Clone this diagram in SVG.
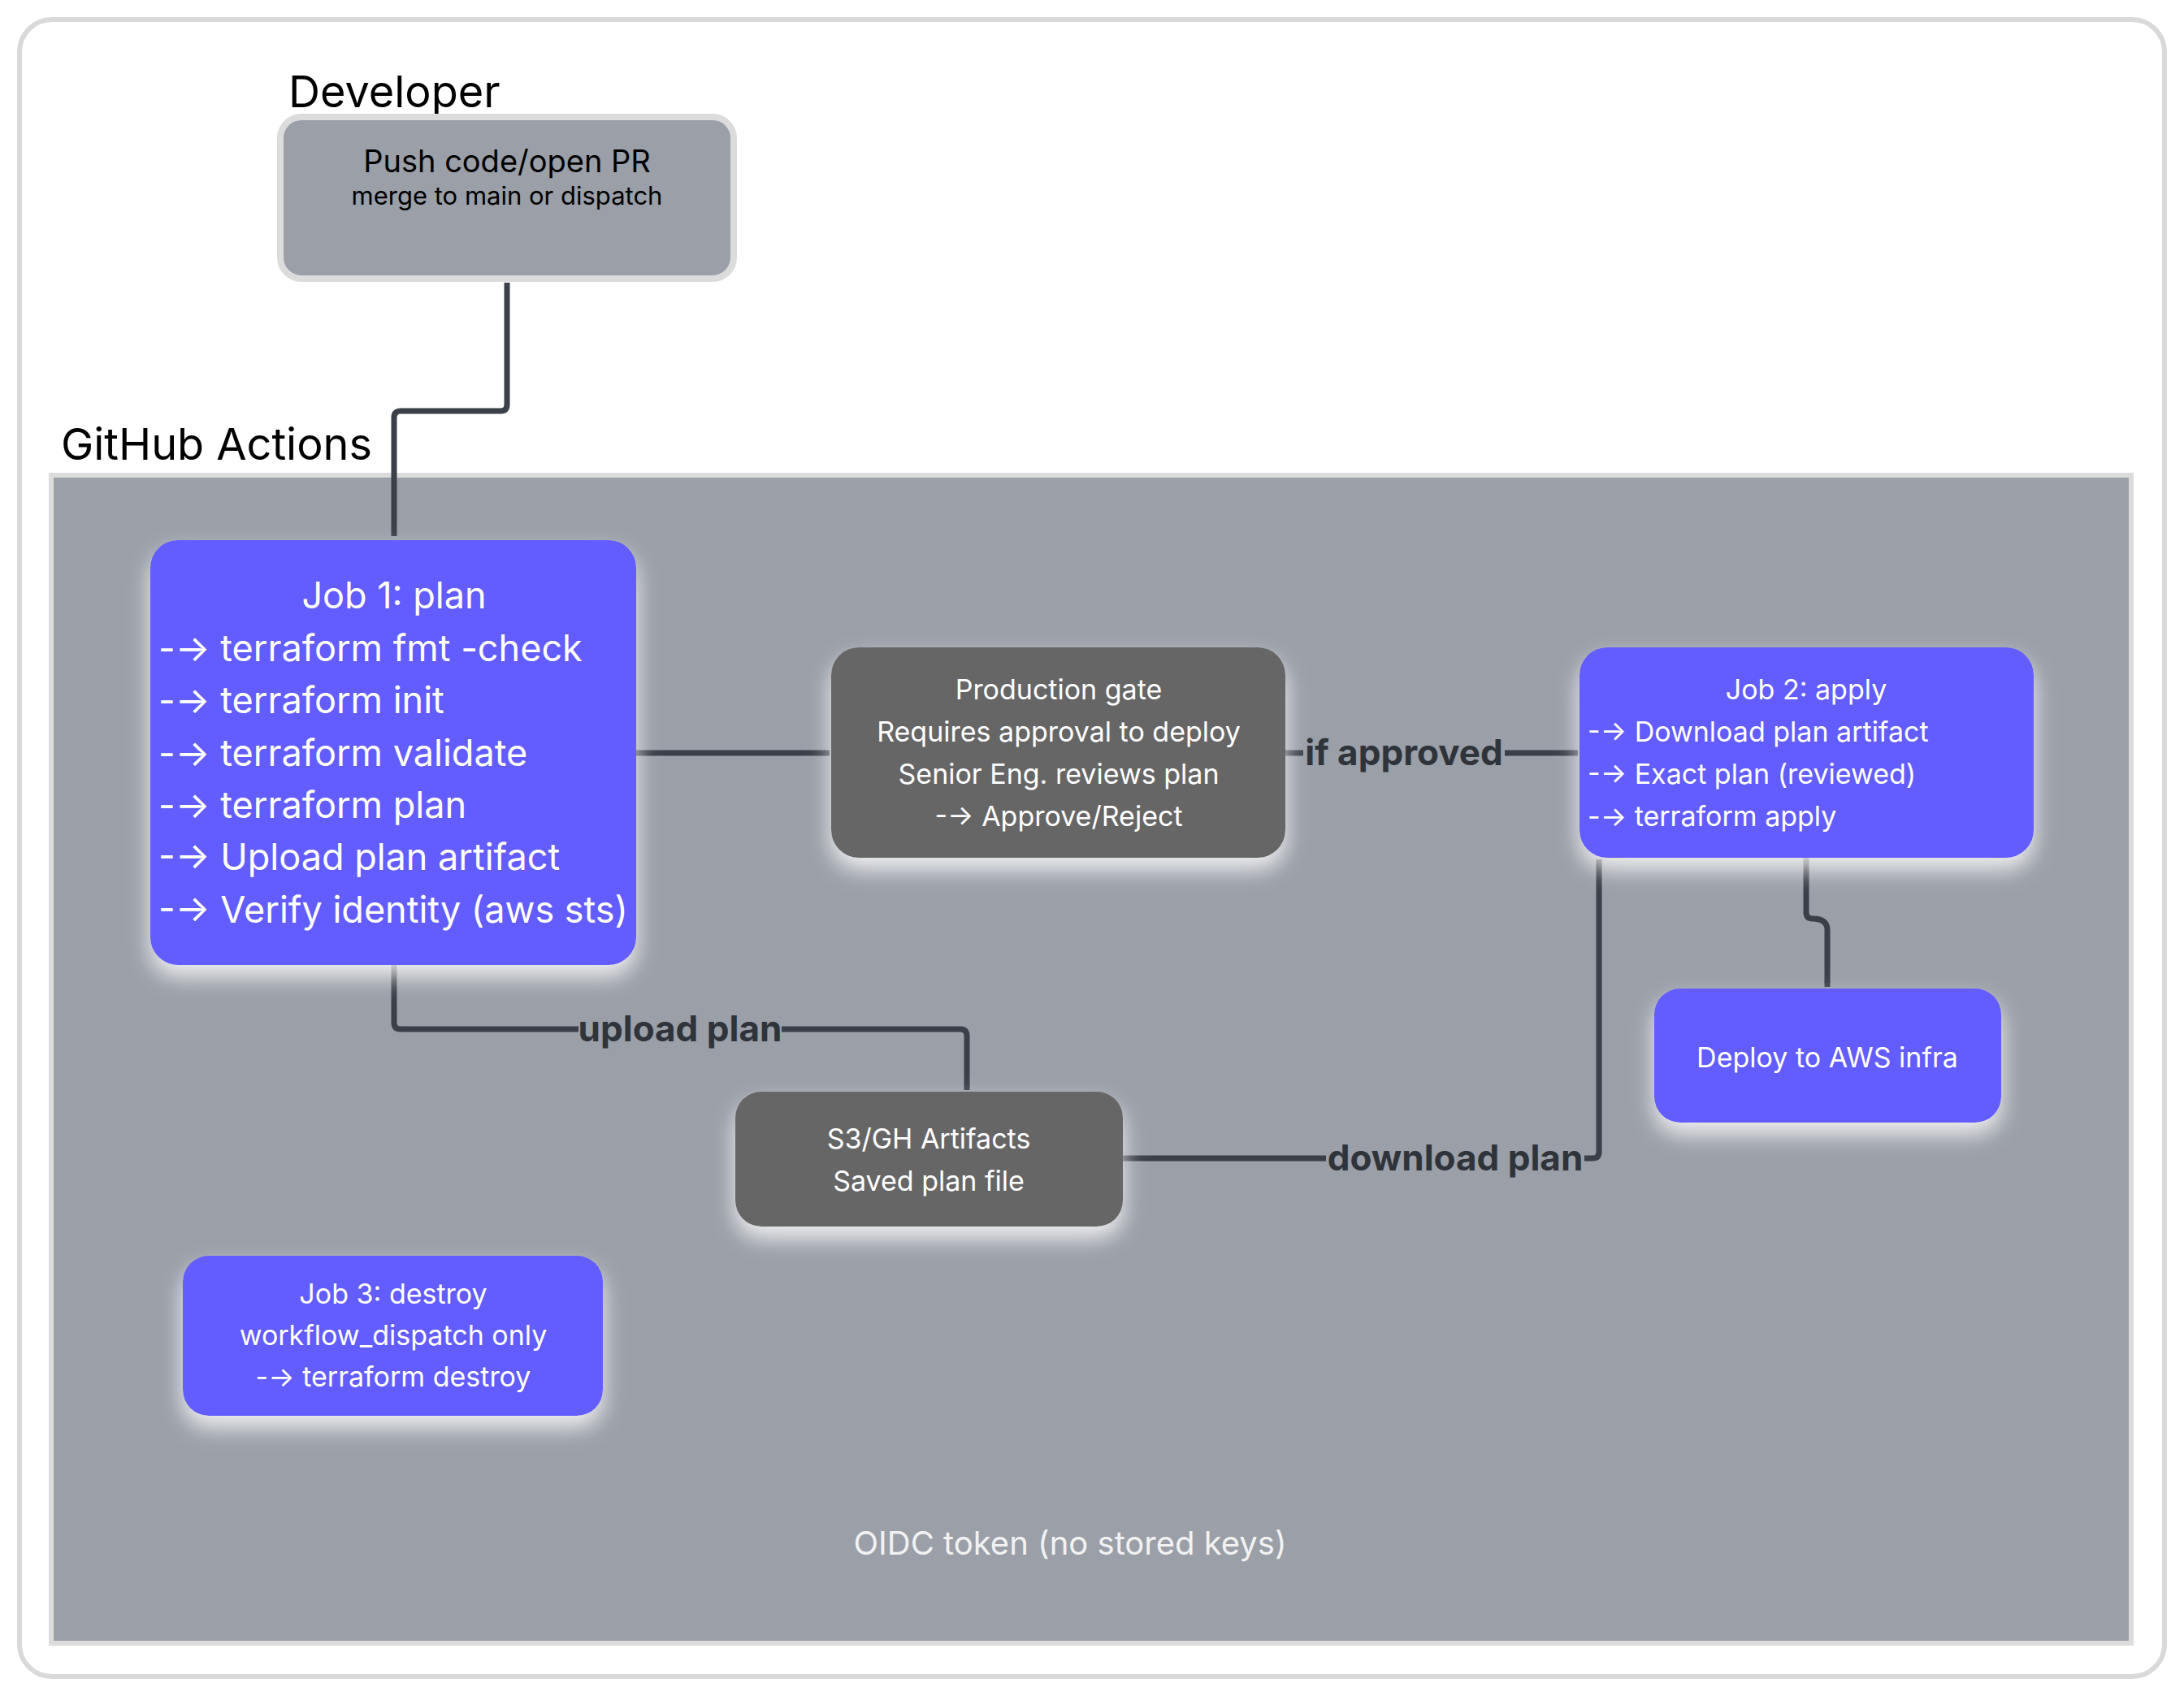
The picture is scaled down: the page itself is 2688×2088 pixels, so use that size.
<svg xmlns="http://www.w3.org/2000/svg" width="2688" height="2088" viewBox="0 0 2688 2088">
<defs>
<filter id="glow" x="-20%" y="-20%" width="140%" height="150%">
<feDropShadow dx="0" dy="14" stdDeviation="14" flood-color="#ffffff" flood-opacity="0.85"/>
</filter>
<marker id="ah" markerWidth="8" markerHeight="8" refX="7.5" refY="4" orient="auto" markerUnits="userSpaceOnUse" viewBox="0 0 8 8">
<path d="M0,0 L8,4 L0,8 Z" fill="#3a3f48"/>
</marker>
<style>
text{font-family:Inter,"Noto Sans","Liberation Sans",sans-serif}
.w{fill:#ffffff}
.c{text-anchor:middle}
.conn{fill:none;stroke:#3a3f48;stroke-width:7;stroke-linejoin:round}
.lbl{font-weight:bold;font-size:44px;fill:#2f333a;text-anchor:middle}
.blue{fill:#635bff;filter:url(#glow)}
.dark{fill:#666666;filter:url(#glow)}
</style>
</defs>
<rect x="0" y="0" width="2688" height="2088" fill="#ffffff"/>
<rect x="24" y="24" width="2640" height="2040" rx="40" fill="#ffffff" stroke="#d9d9d9" stroke-width="6"/>
<g id="developer">
<text x="355" y="132" font-size="54" fill="#000">Developer</text>
<rect x="345" y="144" width="558" height="199" rx="26" fill="#9a9fa8" stroke="#dcdcdc" stroke-width="8"/>
<text x="624" y="212" font-size="38" class="c" fill="#000">Push code/open PR</text>
<text x="624" y="252" font-size="31" class="c" fill="#000">merge to main or dispatch</text>
</g>
<g id="github-actions">
<text x="75" y="566" font-size="54" fill="#000">GitHub Actions</text>
<rect x="63" y="585" width="2560" height="1438" fill="#9a9fa8" stroke="#dcdcdc" stroke-width="6"/>
</g>
<g id="connectors">
<path class="conn" d="M624,348 V498 Q624,506 616,506 H493 Q485,506 485,514 V660" marker-end="url(#ah)" style="marker-end:url(#ah)"/>
<path class="conn" d="M783,927 H1021" marker-end="url(#ah)"/>
<path class="conn" d="M1582,927 H1942" marker-end="url(#ah)"/>
<path class="conn" d="M2223,1056 V1123 Q2223,1131 2231,1131 Q2249,1131 2249,1145 V1215" marker-end="url(#ah)"/>
<path class="conn" d="M485,1188 V1259 Q485,1267 493,1267 H1182 Q1190,1267 1190,1275 V1342" marker-end="url(#ah)"/>
<path class="conn" d="M1382,1426 H1960 Q1968,1426 1968,1418 V1058" marker-end="url(#ah)"/>
<rect x="1604" y="895" width="248" height="60" fill="#9a9fa8"/>
<text x="1728" y="942" class="lbl">if approved</text>
<rect x="712" y="1237" width="250" height="60" fill="#9a9fa8"/>
<text x="837" y="1282" class="lbl">upload plan</text>
<rect x="1632" y="1396" width="318" height="60" fill="#9a9fa8"/>
<text x="1791" y="1441" class="lbl">download plan</text>
</g>
<g id="job1">
<rect class="blue" x="185" y="665" width="598" height="523" rx="34"/>
<g font-size="45" class="w">
<text x="485" y="749" class="c">Job 1: plan</text>
<text x="195" y="814">-→ terraform fmt -check</text>
<text x="195" y="878">-→ terraform init</text>
<text x="195" y="943">-→ terraform validate</text>
<text x="195" y="1007">-→ terraform plan</text>
<text x="195" y="1071">-→ Upload plan artifact</text>
<text x="195" y="1136">-→ Verify identity (aws sts)</text>
</g>
</g>
<g id="gate">
<rect class="dark" x="1023" y="797" width="559" height="259" rx="34"/>
<g font-size="34" class="w c">
<text x="1303" y="861">Production gate</text>
<text x="1303" y="913">Requires approval to deploy</text>
<text x="1303" y="965">Senior Eng. reviews plan</text>
<text x="1303" y="1017">-→ Approve/Reject</text>
</g>
</g>
<g id="job2">
<rect class="blue" x="1944" y="797" width="559" height="259" rx="34"/>
<g font-size="34" class="w">
<text x="2223" y="861" class="c">Job 2: apply</text>
<text x="1954" y="913">-→ Download plan artifact</text>
<text x="1954" y="965">-→ Exact plan (reviewed)</text>
<text x="1954" y="1017">-→ terraform apply</text>
</g>
</g>
<g id="deploy">
<rect class="blue" x="2036" y="1217" width="427" height="165" rx="32"/>
<text x="2249" y="1314" font-size="34" class="w c">Deploy to AWS infra</text>
</g>
<g id="s3">
<rect class="dark" x="905" y="1344" width="477" height="166" rx="32"/>
<text x="1143" y="1414" font-size="34" class="w c">S3/GH Artifacts</text>
<text x="1143" y="1466" font-size="34" class="w c">Saved plan file</text>
</g>
<g id="job3">
<rect class="blue" x="225" y="1546" width="517" height="197" rx="32"/>
<g font-size="34" class="w c">
<text x="484" y="1605">Job 3: destroy</text>
<text x="484" y="1656">workflow_dispatch only</text>
<text x="484" y="1707">-→ terraform destroy</text>
</g>
</g>
<g id="oidc">
<text x="1317" y="1914" font-size="40" class="c" fill="#f2f2f2">OIDC token (no stored keys)</text>
</g>
</svg>
